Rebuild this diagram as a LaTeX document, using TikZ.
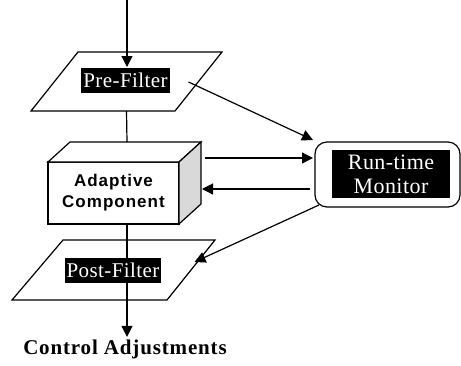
\documentclass[tikz,border=0pt]{standalone}
\usepackage{fontspec}
\setmainfont{Liberation Serif}
\newfontfamily\blockfont[LetterSpace=6]{Liberation Sans}
\newfontfamily\tagfont[LetterSpace=2]{Liberation Serif}
\newfontfamily\capfont[LetterSpace=4]{Liberation Serif}
\usetikzlibrary{arrows.meta,calc}

\begin{document}
\begin{tikzpicture}[
    x=0.5pt, y=-0.5pt,
    line width=0.6pt,
    tag/.style={fill=black, text=white, inner sep=1pt, minimum height=12.5pt, font=\tagfont\fontsize{10.5}{12}\selectfont},
    block/.style={rectangle, draw, fill=white, outer sep=0pt, minimum width=65.5pt, minimum height=31pt, align=center, font=\blockfont\bfseries\fontsize{8.5}{10.5}\selectfont},
    monitor/.style={rectangle, draw, rounded corners=6pt, outer sep=0pt, minimum width=72.5pt, minimum height=32.5pt},
    arrow/.style={-{Triangle[length=5.5pt,width=5.5pt]}},
    caption/.style={font=\capfont\bfseries\fontsize{10.5}{12}\selectfont, inner sep=1pt}
]
\useasboundingbox (0,0) rectangle (461,365);

% Spine
\coordinate (in) at (127,0);

% Filters
\coordinate (pre) at (126.5,81.5);
\coordinate (post) at (113.5,270);
\draw ([shift={(-95.5,29.5)}]pre) -- ++(144,0) -- ++(47,-59) -- ++(-144,0) -- cycle;
\draw ([shift={(-101.5,30)}]post) -- ++(155,0) -- ++(48,-60) -- ++(-152,0) -- cycle;
\coordinate (preout) at ($(pre)+(62,0.5)$);
\coordinate (postin) at ($(post)+(81,-8)$);

% Adaptive component (cuboid)
\node[block] (adapt) at (113.5,193) {Adaptive\\Component};
\draw[fill=white] (adapt.north west) -- ++(22,-20) -- ++(131,0) -- (adapt.north east) -- cycle;
\draw[fill=gray!30] (adapt.north east) -- ++(22,-20) -- ++(0,62) -- (adapt.south east) -- cycle;

% Monitor
\node[monitor] (mon) at (387.5,174.5) {};
\node[tag, minimum width=59pt, minimum height=24pt, align=center, font=\tagfont\fontsize{11}{12}\selectfont] (monlbl) at (391,174) {Run-time\\Monitor};

% Control output
\node[caption] (ctrl) at (125,349) {Control Adjustments};

% Spine lines
\draw[arrow] (in) -- ++(0,67);
\draw ($(pre)+(0,29.5)$ -| in) -- ([shift={(13.5,-20)}]adapt.north);
\draw[arrow] (adapt.south -| in) -- (ctrl.north -| in);

% Labels on top
\node[tag] (prelbl) at (125.5,80.5) {Pre-Filter};
\node[tag] (postlbl) at (113,270) {Post-Filter};

% Monitor links
\draw[arrow] (preout) -- ([shift={(-2,-2)}]mon.north west);
\draw[arrow] ([shift={(26,-35)}]adapt.east) -- ([shift={(-2,-16.5)}]mon.west);
\draw[arrow] ([shift={(-5,14.5)}]mon.west) -- ([shift={(23,-4)}]adapt.east);
\draw[arrow] ([shift={(4,-2)}]mon.south west) -- (postin);

\end{tikzpicture}
\end{document}
